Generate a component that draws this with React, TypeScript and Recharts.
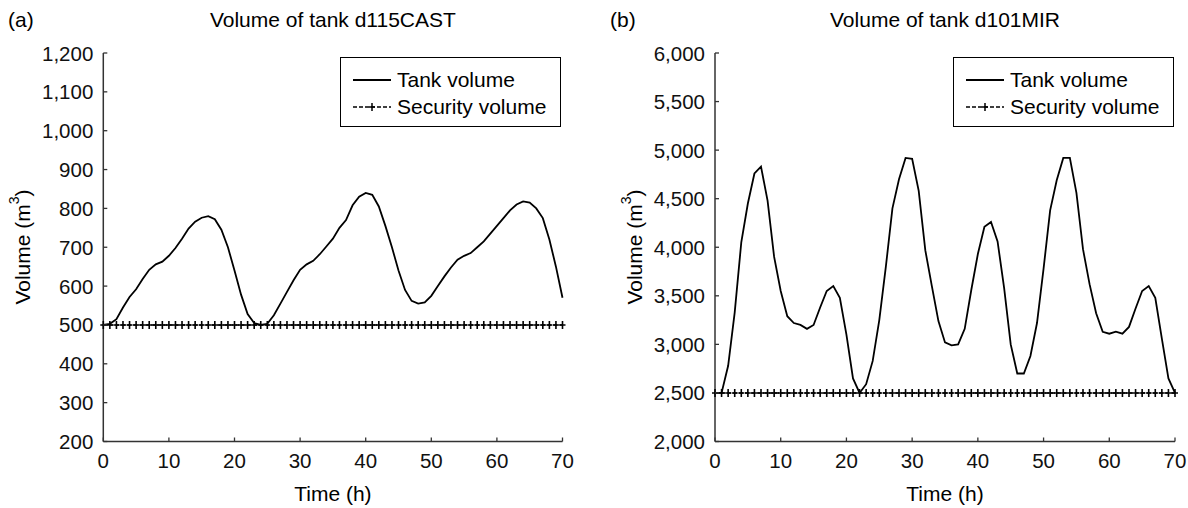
import { LineChart, Line, XAxis, YAxis, Legend } from "recharts";

// hours on the x axis (one sample per hour)
const hours = [
  0, 1, 2, 3, 4, 5, 6, 7, 8, 9, 10, 11, 12, 13, 14, 15, 16, 17, 18, 19, 20,
  21, 22, 23, 24, 25, 26, 27, 28, 29, 30, 31, 32, 33, 34, 35, 36, 37, 38, 39,
  40, 41, 42, 43, 44, 45, 46, 47, 48, 49, 50, 51, 52, 53, 54, 55, 56, 57, 58,
  59, 60, 61, 62, 63, 64, 65, 66, 67, 68, 69, 70,
];

// tank d115CAST (m3)
const tankA = [
  500, 503, 515, 545, 572, 592, 618, 642, 656, 663, 678, 698, 722, 748, 766,
  776, 780, 772, 745, 700, 640, 578, 528, 505, 500, 503, 525, 555, 585, 615,
  642, 656, 665, 682, 702, 722, 750, 770, 808, 830, 840, 835, 805, 755, 700,
  640, 590, 562, 555, 558, 575, 600, 625, 648, 668, 678, 685, 700, 715, 735,
  755, 775, 795, 810, 818, 815, 800, 775, 720, 650, 570,
];

// tank d101MIR (m3)
const tankB = [
  2500, 2500, 2780, 3330, 4050, 4450, 4760, 4830, 4480, 3900, 3550, 3290, 3220,
  3200, 3160, 3200, 3380, 3550, 3600, 3480, 3100, 2650, 2500, 2590, 2830, 3250,
  3800, 4400, 4700, 4920, 4910, 4580, 3970, 3600, 3240, 3020, 2990, 3000, 3160,
  3560, 3930, 4210, 4260, 4060, 3580, 3000, 2700, 2700, 2880, 3220, 3780, 4380,
  4690, 4920, 4920, 4560, 3980, 3620, 3320, 3130, 3110, 3130, 3110, 3180, 3370,
  3550, 3600, 3480, 3060, 2650, 2500,
];

const securityA = 500;
const securityB = 2500;

const timeTicks = [0, 10, 20, 30, 40, 50, 60, 70];
const ticksA = [200, 300, 400, 500, 600, 700, 800, 900, 1000, 1100, 1200];
const ticksB = [2000, 2500, 3000, 3500, 4000, 4500, 5000, 5500, 6000];

const FONT = '"Liberation Sans", Arial, Helvetica, sans-serif';
const AXIS = "#333";
const W = 594;
const H = 508;
const TOP = 53;
const AXIS_Y = 441.5;

const buildRows = (tank: number[], security: number) =>
  hours.map((h, i) => ({ hour: h, tank: tank[i], security }));

const makeYTick = (axisX: number) => (props: any) => {
  const { y, payload } = props;
  return (
    <g>
      <line x1={axisX} x2={axisX + 4} y1={y} y2={y} stroke={AXIS} strokeWidth={1.3} />
      <text
        x={axisX - 10}
        y={y}
        textAnchor="end"
        dominantBaseline="central"
        fontSize={20.5}
        fontFamily={FONT}
        fill="#111"
      >
        {Number(payload.value).toLocaleString("en-US")}
      </text>
    </g>
  );
};

const XTick = (props: any) => {
  const { x, payload } = props;
  return (
    <g>
      <line x1={x} x2={x} y1={AXIS_Y} y2={AXIS_Y - 4} stroke={AXIS} strokeWidth={1.3} />
      <text
        x={x}
        y={460}
        textAnchor="middle"
        dominantBaseline="central"
        fontSize={20.5}
        fontFamily={FONT}
        fill="#111"
      >
        {payload.value}
      </text>
    </g>
  );
};

const renderPlus = (props: any) => {
  const { cx, cy, index } = props;
  if (cx == null || cy == null) return <g key={`p-${index}`} />;
  return (
    <path
      key={`p-${index}`}
      d={`M${cx - 3},${cy}H${cx + 3}M${cx},${cy - 4}V${cy + 4}`}
      stroke="#000"
      strokeWidth={1.6}
      fill="none"
    />
  );
};

const TimeLabel = ({ lx, ly }: any) => (
  <text
    x={lx}
    y={ly}
    textAnchor="middle"
    dominantBaseline="central"
    fontSize={21}
    fontFamily={FONT}
    fill="#000"
  >
    Time (h)
  </text>
);

const VolumeLabel = ({ lx, ly }: any) => (
  <text
    x={lx}
    y={ly}
    transform={`rotate(-90 ${lx} ${ly})`}
    textAnchor="middle"
    dominantBaseline="central"
    fontSize={21}
    fontFamily={FONT}
    fill="#000"
  >
    Volume (m
    <tspan dy={-8} fontSize={14}>
      3
    </tspan>
    <tspan dy={8}>)</tspan>
  </text>
);

const LegendBox = () => (
  <div
    style={{
      boxSizing: "border-box",
      width: 221,
      height: 70,
      border: "1px solid #000",
      background: "#fff",
      padding: "8px 0 0 12px",
      fontFamily: FONT,
      fontSize: 21,
      lineHeight: "27px",
      color: "#000",
      textAlign: "left",
    }}
  >
    <div style={{ display: "flex", alignItems: "center", height: 27 }}>
      <svg width={40} height={10}>
        <line x1={0} x2={38} y1={5} y2={5} stroke="#000" strokeWidth={1.8} />
      </svg>
      <span style={{ marginLeft: 4 }}>Tank volume</span>
    </div>
    <div style={{ display: "flex", alignItems: "center", height: 27 }}>
      <svg width={40} height={10}>
        <line
          x1={0}
          x2={38}
          y1={5}
          y2={5}
          stroke="#000"
          strokeWidth={1.6}
          strokeDasharray="4 2"
        />
        <path d="M16,5H22M19,1V9" stroke="#000" strokeWidth={1.5} />
      </svg>
      <span style={{ marginLeft: 4 }}>Security volume</span>
    </div>
  </div>
);

interface PanelProps {
  offsetX: number;
  letter: string;
  title: string;
  tank: number[];
  security: number;
  yDomain: [number, number];
  yTicks: number[];
  plotLeft: number;
  plotRight: number;
  legendLeft: number;
}

const Panel = ({
  offsetX,
  letter,
  title,
  tank,
  security,
  yDomain,
  yTicks,
  plotLeft,
  plotRight,
  legendLeft,
}: PanelProps) => {
  const rows = buildRows(tank, security);
  const xAxisHeight = 40;
  const center = (plotLeft + plotRight) / 2;
  return (
    <div style={{ position: "absolute", left: offsetX, top: 0, width: W, height: H }}>
      <LineChart
        width={W}
        height={H}
        data={rows}
        margin={{ top: TOP, right: W - plotRight, left: 0, bottom: H - AXIS_Y - xAxisHeight }}
      >
        <XAxis
          dataKey="hour"
          type="number"
          domain={[0, 70]}
          ticks={timeTicks}
          height={xAxisHeight}
          axisLine={{ stroke: AXIS, strokeWidth: 1.5 }}
          tickLine={false}
          tick={XTick}
          label={<TimeLabel lx={center} ly={493} />}
        />
        <YAxis
          type="number"
          domain={yDomain}
          ticks={yTicks}
          width={plotLeft}
          axisLine={{ stroke: AXIS, strokeWidth: 1.5 }}
          tickLine={false}
          tick={makeYTick(plotLeft)}
          interval={0}
          label={<VolumeLabel lx={plotLeft - 81} ly={247} />}
        />
        <Legend
          layout="vertical"
          align="center"
          verticalAlign="middle"
          content={<LegendBox />}
          wrapperStyle={{ left: legendLeft, top: 57, width: 221 }}
        />
        <Line
          type="linear"
          dataKey="tank"
          name="Tank volume"
          stroke="#000"
          strokeWidth={1.8}
          dot={false}
          isAnimationActive={false}
        />
        <Line
          type="linear"
          dataKey="security"
          name="Security volume"
          stroke="#000"
          strokeWidth={1.6}
          strokeDasharray="4 2"
          dot={renderPlus}
          isAnimationActive={false}
        />
      </LineChart>
      <div
        style={{
          position: "absolute",
          left: letter === "(a)" ? 8 : 16,
          top: 8,
          fontFamily: FONT,
          fontSize: 21,
          lineHeight: "24px",
          color: "#000",
        }}
      >
        {letter}
      </div>
      <div
        style={{
          position: "absolute",
          left: center - 200,
          width: 400,
          top: 8,
          textAlign: "center",
          fontFamily: FONT,
          fontSize: 21,
          lineHeight: "24px",
          color: "#000",
        }}
      >
        {title}
      </div>
    </div>
  );
};

export default function App() {
  return (
    <div
      style={{
        position: "absolute",
        left: 0,
        top: 0,
        width: 1188,
        height: 508,
        background: "#fff",
        overflow: "hidden",
      }}
    >
      <Panel
        offsetX={0}
        letter="(a)"
        title="Volume of tank d115CAST"
        tank={tankA}
        security={securityA}
        yDomain={[200, 1200]}
        yTicks={ticksA}
        plotLeft={103.3}
        plotRight={562.5}
        legendLeft={340}
      />
      <Panel
        offsetX={594}
        letter="(b)"
        title="Volume of tank d101MIR"
        tank={tankB}
        security={securityB}
        yDomain={[2000, 6000]}
        yTicks={ticksB}
        plotLeft={121}
        plotRight={581}
        legendLeft={359}
      />
    </div>
  );
}
